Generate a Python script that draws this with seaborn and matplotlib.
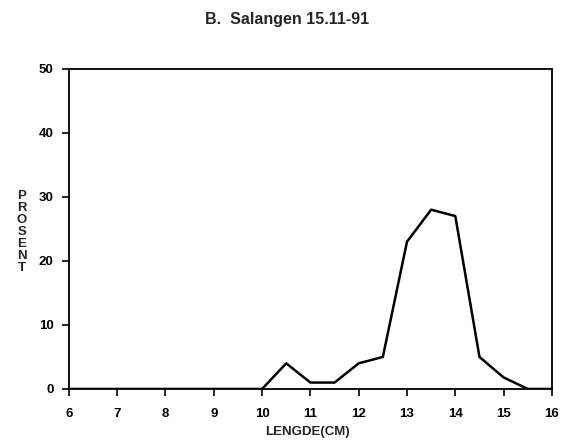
import pandas as pd
import matplotlib
matplotlib.use("Agg")
import matplotlib.pyplot as plt
import seaborn as sns

# length classes (cm) and percentage per class
lengde = [6, 6.5, 7, 7.5, 8, 8.5, 9, 9.5, 10, 10.5, 11, 11.5, 12, 12.5,
          13, 13.5, 14, 14.5, 15, 15.5, 16]
prosent = [0, 0, 0, 0, 0, 0, 0, 0, 0, 4, 1, 1, 4, 5,
           23, 28, 27, 5, 1.8, 0, 0]
x_ticks = list(range(6, 17))
y_ticks = [0, 10, 20, 30, 40, 50]

df = pd.DataFrame({"lengde": lengde, "prosent": prosent})

sns.set_style("ticks")
plt.rcParams["font.family"] = ["Liberation Sans", "DejaVu Sans"]
plt.rcParams["font.weight"] = "bold"

fig = plt.figure(figsize=(5.69, 4.41), dpi=100)
ax = fig.add_axes([0.121, 0.118, 0.849, 0.726])

sns.lineplot(data=df, x="lengde", y="prosent", color="black", linewidth=1.8, ax=ax)

ax.set_xlim(6, 16)
ax.set_ylim(0, 50)
ax.set_xticks(x_ticks)
ax.set_yticks(y_ticks)
ax.tick_params(axis="both", direction="out", length=5, width=1.2, labelsize=9.5, colors="black")
ax.tick_params(axis="x", pad=9)
ax.tick_params(axis="y", pad=6)
for lab in ax.get_xticklabels() + ax.get_yticklabels():
    lab.set_fontweight("bold")
for s in ax.spines.values():
    s.set_linewidth(1.3)
    s.set_color("black")
ax.set_xlabel("")
ax.set_ylabel("")

fig.text(0.505, 0.955, "B.  Salangen 15.11-91", ha="center", va="center",
         fontsize=11.5, fontweight="bold")
fig.text(0.54, 0.02, "LENGDE(CM)", ha="center", va="center", fontsize=9.5, fontweight="bold")
fig.text(0.038, 0.474, "\n".join("PROSENT"), ha="center", va="center",
         fontsize=9.5, fontweight="bold", linespacing=1.0)

fig.savefig("out.png", dpi=100)
